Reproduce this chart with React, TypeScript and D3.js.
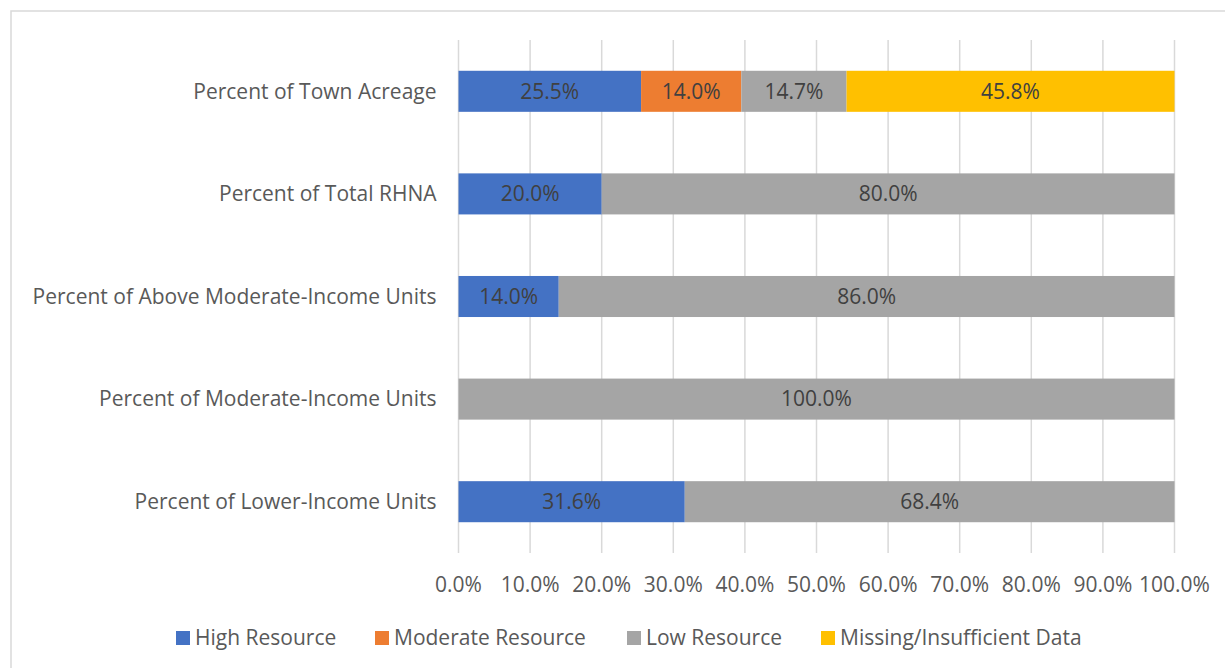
import React, { useRef, useEffect } from "react";
import * as d3 from "d3";

const categories = [
  "Percent of Town Acreage",
  "Percent of Total RHNA",
  "Percent of Above Moderate-Income Units",
  "Percent of Moderate-Income Units",
  "Percent of Lower-Income Units",
];
const seriesNames = ["High Resource", "Moderate Resource", "Low Resource", "Missing/Insufficient Data"];
const highResource = [25.5, 20.0, 14.0, 0, 31.6];
const moderateResource = [14.0, 0, 0, 0, 0];
const lowResource = [14.7, 80.0, 86.0, 100.0, 68.4];
const missingData = [45.8, 0, 0, 0, 0];
const xTicks = [0, 10, 20, 30, 40, 50, 60, 70, 80, 90, 100];
const colors = ["#4472C4", "#ED7D31", "#A5A5A5", "#FFC000"];

const FONT = "'Open Sans', sans-serif";
const FS = "21px";

const App = () => {
  const svgRef = useRef<SVGSVGElement>(null);

  useEffect(() => {
    const width = 1225;
    const height = 668;
    const margin = { top: 40, right: 50, bottom: 115, left: 458.5 };

    const svg = d3.select(svgRef.current).attr("width", width).attr("height", height);
    svg.selectAll("*").remove();

    // chart border
    svg
      .append("rect")
      .attr("x", 11)
      .attr("y", 11)
      .attr("width", width + 20)
      .attr("height", height + 20)
      .attr("fill", "#fff")
      .attr("stroke", "#D9D9D9")
      .attr("stroke-width", 1.5);

    const x = d3.scaleLinear().domain([0, 100]).range([margin.left, 1174.5]);
    const y = d3
      .scaleBand()
      .domain(categories)
      .range([margin.top, height - margin.bottom])
      .paddingInner(0.6)
      .paddingOuter(0.3);

    // GRIDLINES
    svg
      .append("g")
      .selectAll("line")
      .data(xTicks)
      .join("line")
      .attr("x1", (d) => x(d))
      .attr("x2", (d) => x(d))
      .attr("y1", margin.top)
      .attr("y2", height - margin.bottom)
      .attr("stroke", "#D9D9D9")
      .attr("stroke-width", 1.5);

    const rows = categories.map((c, i) => ({
      cat: c,
      vals: [highResource[i], moderateResource[i], lowResource[i], missingData[i]],
    }));

    // BARS
    rows.forEach((r) => {
      let acc = 0;
      r.vals.forEach((v, si) => {
        if (v <= 0) return;
        const x0 = acc;
        acc += v;
        svg
          .append("rect")
          .attr("x", x(x0))
          .attr("y", y(r.cat)!)
          .attr("width", x(acc) - x(x0))
          .attr("height", y.bandwidth())
          .attr("fill", colors[si]);
        svg
          .append("text")
          .attr("x", (x(x0) + x(acc)) / 2)
          .attr("y", y(r.cat)! + y.bandwidth() / 2)
          .attr("dy", "0.35em")
          .attr("text-anchor", "middle")
          .attr("fill", "#404040")
          .style("font-family", FONT)
          .style("font-size", FS)
          .text(`${v.toFixed(1)}%`);
      });
    });

    // CATEGORY LABELS
    svg
      .append("g")
      .selectAll("text")
      .data(categories)
      .join("text")
      .attr("x", margin.left - 22)
      .attr("y", (d) => y(d)! + y.bandwidth() / 2)
      .attr("dy", "0.35em")
      .attr("text-anchor", "end")
      .attr("fill", "#595959")
      .style("font-family", FONT)
      .style("font-size", FS)
      .text((d) => d);

    // X TICK LABELS
    svg
      .append("g")
      .selectAll("text")
      .data(xTicks)
      .join("text")
      .attr("x", (d) => x(d))
      .attr("y", 585)
      .attr("dy", "0.35em")
      .attr("text-anchor", "middle")
      .attr("fill", "#595959")
      .style("font-family", FONT)
      .style("font-size", FS)
      .text((d) => `${d.toFixed(1)}%`);

    // LEGEND
    const legendX = [176, 375, 627, 821];
    const lg = svg
      .append("g")
      .selectAll("g")
      .data(seriesNames)
      .join("g")
      .attr("transform", (_, i) => `translate(${legendX[i]},631)`);
    lg.append("rect").attr("width", 14).attr("height", 14).attr("fill", (_, i) => colors[i]);
    lg.append("text")
      .attr("x", 19)
      .attr("y", 7)
      .attr("dy", "0.35em")
      .attr("fill", "#595959")
      .style("font-family", FONT)
      .style("font-size", FS)
      .text((d) => d);
  }, []);

  return <svg ref={svgRef} style={{ position: "absolute", left: 0, top: 0 }}></svg>;
};

export default App;
